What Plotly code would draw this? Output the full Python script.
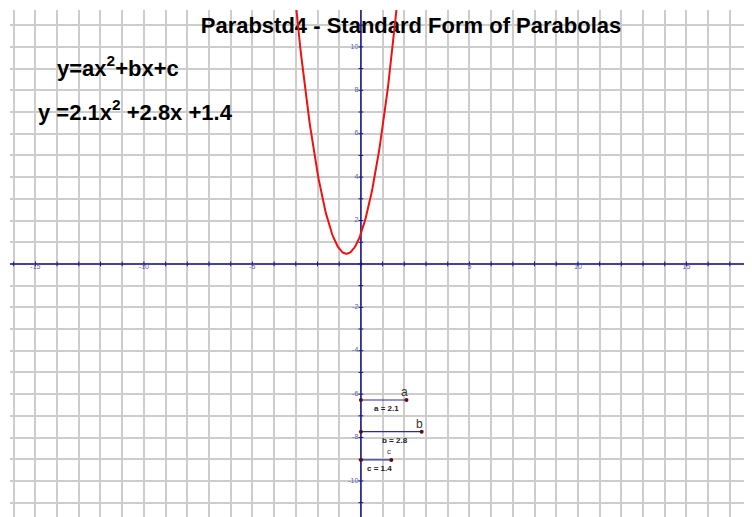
import plotly.graph_objects as go

# ---- data ----
coef_names = ["a", "b", "c"]
coef_values = [2.1, 2.8, 1.4]
slider_rows = [-6.27, -7.73, -9.03]          # vertical placement of the slider bars
x_tick_labels = [-15, -10, -5, 5, 10, 15]
y_tick_labels = [-10, -8, -6, -4, -2, 2, 4, 6, 8, 10]
title_text = "Parabstd4 - Standard Form of Parabolas"

# ---- view ----
X_RANGE = [-16.17, 18.39]
Y_RANGE = [-12.03, 11.70]
AXIS_COLOR = "#14148a"
FONT = "Arial, Liberation Sans, sans-serif"
W, H, L, T = 752, 517, 2, 2
BODY = 8  # page margin of the html body
PX0, PX1 = BODY + L, BODY + W      # plot area in window pixels
PY0, PY1 = BODY + T, BODY + H


def dx(sx):
    return X_RANGE[0] + (sx - PX0) / (PX1 - PX0) * (X_RANGE[1] - X_RANGE[0])


def dy(sy):
    return Y_RANGE[0] + (PY1 - sy) / (PY1 - PY0) * (Y_RANGE[1] - Y_RANGE[0])


a, b, c = coef_values
n = 800
xs = [X_RANGE[0] + (X_RANGE[1] - X_RANGE[0]) * i / (n - 1) for i in range(n)]
ys = [a * x * x + b * x + c for x in xs]

fig = go.Figure()

# title and equations (beneath the axes and curve)
big = dict(family=FONT, size=22, color="black")
fig.add_trace(go.Scatter(x=[dx(411)], y=[dy(27)], mode="text", text=[f"<b>{title_text}</b>"],
                         textposition="middle center", textfont=big,
                         hoverinfo="skip", showlegend=False))
fig.add_trace(go.Scatter(x=[dx(57), dx(38)], y=[dy(70), dy(114)], mode="text",
                         text=["<b>y=ax<sup>2</sup>+bx+c</b>",
                               f"<b>y ={a}x<sup>2</sup> +{b}x +{c}</b>"],
                         textposition="middle right", textfont=big,
                         hoverinfo="skip", showlegend=False))

# axes
fig.add_trace(go.Scatter(x=[X_RANGE[0], X_RANGE[1], None, 0, 0],
                         y=[0, 0, None, Y_RANGE[0], Y_RANGE[1]], mode="lines",
                         line=dict(color=AXIS_COLOR, width=1.5),
                         hoverinfo="skip", showlegend=False))

tx, ty = [], []
for k in range(int(X_RANGE[0]), int(X_RANGE[1]) + 1):
    tx += [k, k, None]
    ty += [-0.11, 0.11, None]
for k in range(int(Y_RANGE[0]), int(Y_RANGE[1]) + 1):
    tx += [-0.11, 0.11, None]
    ty += [k, k, None]
fig.add_trace(go.Scatter(x=tx, y=ty, mode="lines", line=dict(color=AXIS_COLOR, width=1),
                         hoverinfo="skip", showlegend=False))

small = dict(family=FONT, size=7, color="#5a5aa8")
fig.add_trace(go.Scatter(x=x_tick_labels, y=[0] * len(x_tick_labels), mode="text",
                         text=[str(v) for v in x_tick_labels], textposition="bottom center",
                         textfont=small, hoverinfo="skip", showlegend=False))
fig.add_trace(go.Scatter(x=[-0.12] * len(y_tick_labels), y=y_tick_labels, mode="text",
                         text=[str(v) for v in y_tick_labels], textposition="middle left",
                         textfont=small, hoverinfo="skip", showlegend=False))

# parabola
fig.add_trace(go.Scatter(x=xs, y=ys, mode="lines", line=dict(color="#ee1111", width=2),
                         hoverinfo="skip", showlegend=False))

# sliders
annotations = []
for name, val, row in zip(coef_names, coef_values, slider_rows):
    fig.add_trace(go.Scatter(x=[0, val], y=[row, row], mode="lines+markers",
                             line=dict(color="#2a2aa0", width=1.2),
                             marker=dict(color="#5a1010", size=4),
                             hoverinfo="skip", showlegend=False))
    annotations.append(dict(x=val, y=row, xref="x", yref="y", text=name, showarrow=False,
                            yshift=8, xshift=-2, yanchor="middle",
                            font=dict(family=FONT, size=12 if name != "c" else 8,
                                      color="#333333")))
    annotations.append(dict(x=val * 0.5 + 0.15, y=row, xref="x", yref="y",
                            text=f"<b>{name} = {val}</b>", showarrow=False, yshift=-9,
                            yanchor="middle",
                            font=dict(family=FONT, size=8, color="#222222")))

fig.update_layout(
    annotations=annotations,
    width=W, height=H,
    margin=dict(l=L, r=0, t=T, b=0),
    plot_bgcolor="white", paper_bgcolor="white",
    xaxis=dict(range=X_RANGE, dtick=1, tick0=0, showgrid=True, gridcolor="#cdcdcd",
               gridwidth=1.5, zeroline=False, showticklabels=False, ticks="", fixedrange=True),
    yaxis=dict(range=Y_RANGE, dtick=1, tick0=0, showgrid=True, gridcolor="#cdcdcd",
               gridwidth=1.5, zeroline=False, showticklabels=False, ticks="", fixedrange=True),
)

fig.write_html("out.html")
